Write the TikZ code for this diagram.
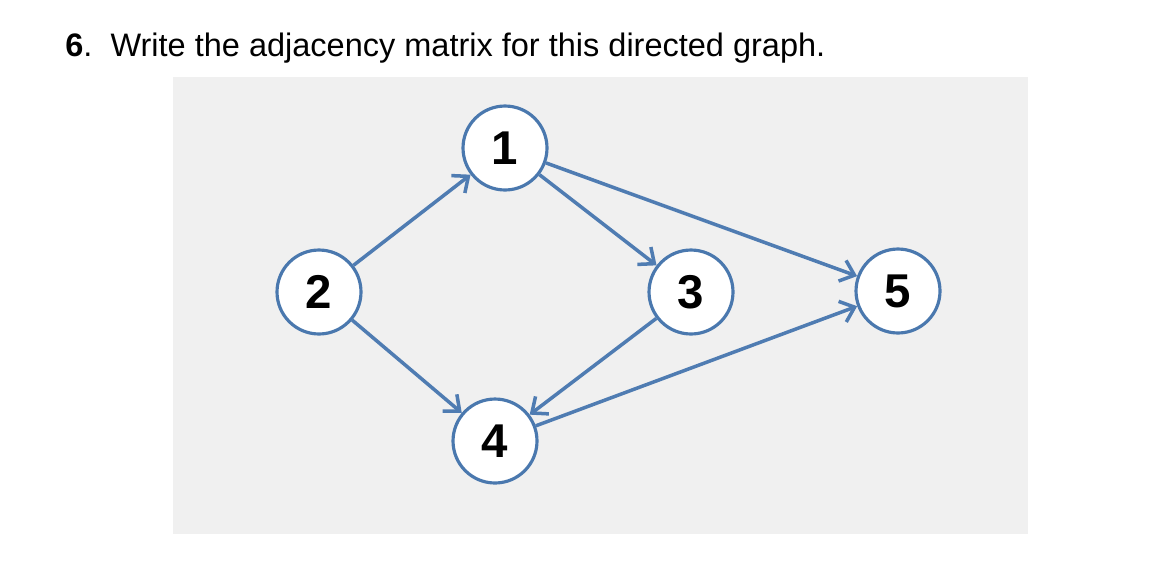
\documentclass[tikz,border=0pt]{standalone}
\usepackage{fontspec}
\setmainfont{Liberation Sans}
\usetikzlibrary{arrows.meta}
\definecolor{panel}{HTML}{F0F0F0}
\definecolor{ring}{HTML}{4A78AE}
\definecolor{edgeblue}{HTML}{4F7CB2}

\begin{document}
\begin{tikzpicture}[x=0.02cm, y=-0.02cm,
  vert/.style={circle, draw=ring, line width=1.8pt, fill=white, minimum size=1.68cm, inner sep=0pt, font=\fontsize{27}{27}\selectfont\bfseries},
  arc/.style={draw=edgeblue, line width=2pt, -{Straight Barb[length=2.6mm, width=4.4mm, line width=2pt]}}]
\useasboundingbox (0,0) rectangle (1158,562);
\fill[panel] (173,77) rectangle (1028,534);
\node[anchor=base west, inner sep=0pt, font=\fontsize{18.5}{20}\selectfont] (title) at (65,56) {\textbf{6}.\ \ Write the adjacency matrix for this directed graph.};
% the five vertices
\node[vert] (v1) at (505,148) {1};
\node[vert] (v2) at (319,292) {2};
\node[vert] (v3) at (691,292) {3};
\node[vert] (v4) at (495,441) {4};
\node[vert] (v5) at (898,291) {5};
% directed edges
\foreach \a/\b in {v2/v1, v1/v3, v1/v5, v2/v4, v3/v4, v4/v5}
  \draw[arc] (\a) -- (\b);
\end{tikzpicture}
\end{document}
